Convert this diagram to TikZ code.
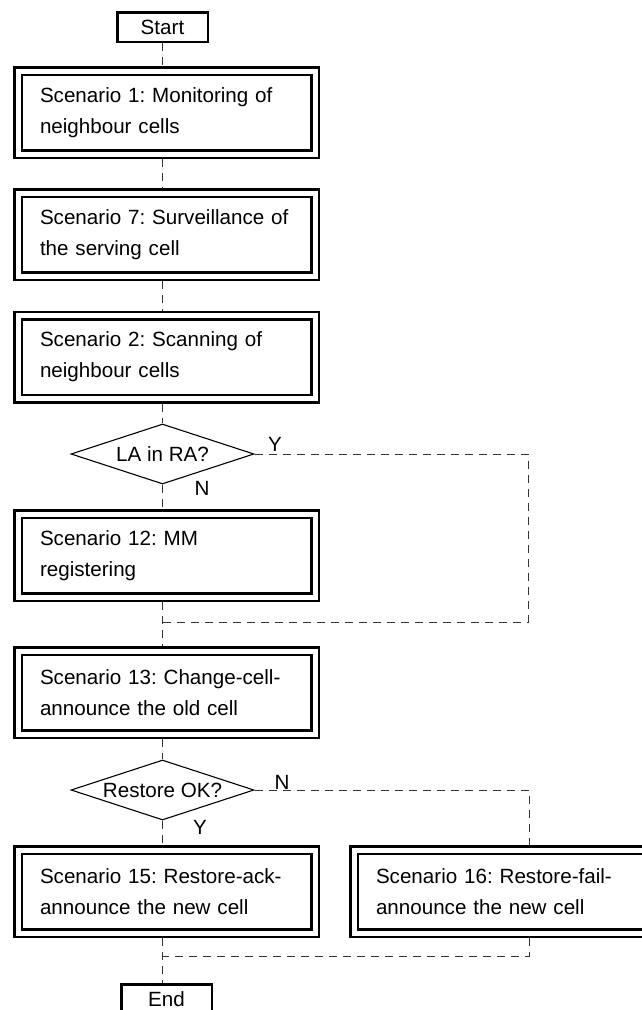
\documentclass[tikz,border=0pt]{standalone}
\usepackage{fontspec}
\setmainfont{Liberation Sans}
\usetikzlibrary{shapes.geometric,calc}
\frenchspacing
\tikzset{
  every node/.style={font=\fontsize{20.6}{31}\selectfont\frenchspacing},
  scen/.style={draw, double, line width=2.5pt, double distance=5pt, outer sep=5pt,
    text width=253pt, align=left, inner xsep=22pt, inner ysep=0pt,
    minimum width=297pt, minimum height=83pt},
  termbox/.style={draw, line width=2.5pt, minimum width=90.5pt, minimum height=29.5pt, inner sep=0pt},
  dec/.style={draw, diamond, shape aspect=3, minimum width=183pt, minimum height=60pt, inner sep=0pt, line width=1.1pt},
  conn/.style={draw, line width=0.9pt, dash pattern=on 8pt off 6pt, black!80},
  lbl/.style={inner sep=0pt}
}
\begin{document}
\begin{tikzpicture}[x=1pt,y=-1pt]
\useasboundingbox (0,0) rectangle (642,1010);
\node[termbox] (start) at (162.5,27) {Start};
\node[scen] (s1) at (166.5,112.5) {Scenario 1: Monitoring of\\neighbour cells};
\node[scen] (s7) at (166.5,234.5) {Scenario 7: Surveillance of\\the serving cell};
\node[scen] (s2) at (166.5,357) {Scenario 2: Scanning of\\neighbour cells};
\node[dec] (d1) at (162.5,454) {LA in RA?};
\node[scen] (s12) at (166.5,555.5) {Scenario 12: MM\\registering};
\node[scen] (s13) at (166.5,692.5) {Scenario 13: Change-cell-\\announce the old cell};
\node[dec] (d2) at (162.5,790) {Restore OK?};
\node[scen] (s15) at (166.5,891.5) {Scenario 15: Restore-ack-\\announce the new cell};
\node[scen] (s16) at (502.5,891.5) {Scenario 16: Restore-fail-\\announce the new cell};
\node[termbox] (end) at (166.5,999) {End};
\node[lbl] (y1) at (275,444) {Y};
\node[lbl] (n1) at (202,488) {N};
\node[lbl] (n2) at (282,782) {N};
\node[lbl] (y2) at (200,827) {Y};
\coordinate (c1) at (528,622);
\coordinate (c2) at (529,956);
\draw[conn] (start.south) -- (s1.north -| start);
\draw[conn] (s1.south -| start) -- (s7.north -| start);
\draw[conn] (s7.south -| start) -- (s2.north -| start);
\draw[conn] (s2.south -| start) -- (d1.north);
\draw[conn] (d1.south) -- (s12.north -| start);
\draw[conn] (s12.south -| start) -- (s13.north -| start);
\draw[conn] (s13.south -| start) -- (d2.north);
\draw[conn] (d2.south) -- (s15.north -| start);
\draw[conn] (s15.south -| start) -- (end.north -| start);
\draw[conn] (d1.east) -| (c1) -- (c1 -| start);
\draw[conn] (d2.east) -| (s16.north -| c2);
\draw[conn] (s16.south -| c2) -- (c2) -- (c2 -| start);
\end{tikzpicture}
\end{document}
